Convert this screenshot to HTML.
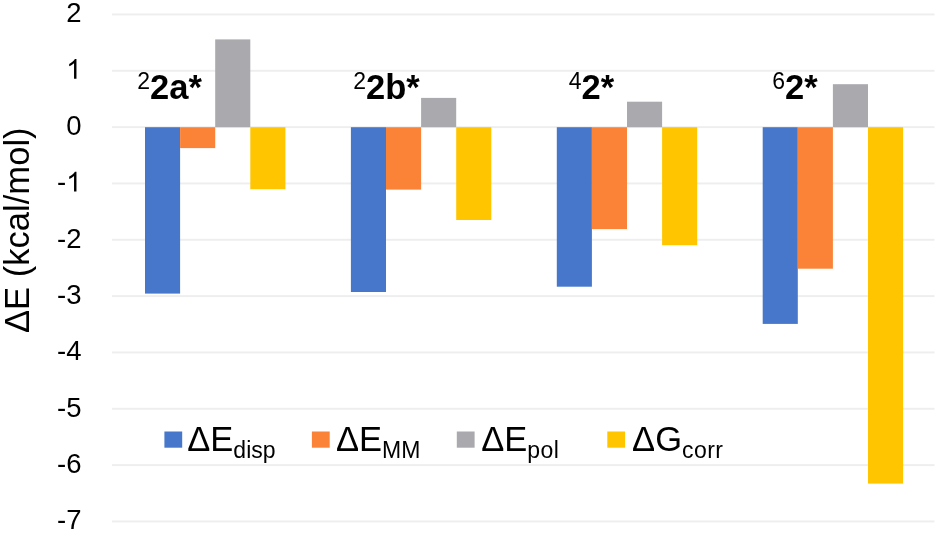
<!DOCTYPE html>
<html><head><meta charset="utf-8"><style>
html,body{margin:0;padding:0;background:#fff;}
body{width:937px;height:533px;overflow:hidden;}
svg{display:block;filter:blur(0.35px);}
text{font-family:"Liberation Sans",sans-serif;fill:#000;}
.tick{font-size:27.5px;text-anchor:end;}
.title{font-size:34.6px;text-anchor:middle;}
.sup{font-size:23px;}
.lab{font-size:34.5px;font-weight:bold;}
.leg{font-size:34.5px;}
.sub{font-size:23px;}
</style></head><body>
<svg width="937" height="533" viewBox="0 0 937 533">
<rect x="112" y="13.50" width="822.5" height="1.9" fill="#EEEEEE"/>
<rect x="112" y="69.83" width="822.5" height="1.9" fill="#EEEEEE"/>
<rect x="112" y="126.17" width="822.5" height="1.9" fill="#EEEEEE"/>
<rect x="112" y="182.50" width="822.5" height="1.9" fill="#EEEEEE"/>
<rect x="112" y="238.83" width="822.5" height="1.9" fill="#EEEEEE"/>
<rect x="112" y="295.16" width="822.5" height="1.9" fill="#EEEEEE"/>
<rect x="112" y="351.50" width="822.5" height="1.9" fill="#EEEEEE"/>
<rect x="112" y="407.83" width="822.5" height="1.9" fill="#EEEEEE"/>
<rect x="112" y="464.16" width="822.5" height="1.9" fill="#EEEEEE"/>
<rect x="112" y="520.50" width="822.5" height="1.9" fill="#EEEEEE"/>
<rect x="145.00" y="127.20" width="35.10" height="166.40" fill="#4677CA"/>
<rect x="180.10" y="127.20" width="35.10" height="20.90" fill="#FA8337"/>
<rect x="215.20" y="39.40" width="35.10" height="87.80" fill="#AAAAAE"/>
<rect x="250.30" y="127.20" width="35.10" height="62.00" fill="#FFC600"/>
<rect x="350.90" y="127.20" width="35.10" height="164.80" fill="#4677CA"/>
<rect x="386.00" y="127.20" width="35.10" height="62.40" fill="#FA8337"/>
<rect x="421.10" y="97.90" width="35.10" height="29.30" fill="#AAAAAE"/>
<rect x="456.20" y="127.20" width="35.10" height="92.80" fill="#FFC600"/>
<rect x="556.80" y="127.20" width="35.10" height="159.50" fill="#4677CA"/>
<rect x="591.90" y="127.20" width="35.10" height="101.90" fill="#FA8337"/>
<rect x="627.00" y="101.70" width="35.10" height="25.50" fill="#AAAAAE"/>
<rect x="662.10" y="127.20" width="35.10" height="118.00" fill="#FFC600"/>
<rect x="762.70" y="127.20" width="35.10" height="196.70" fill="#4677CA"/>
<rect x="797.80" y="127.20" width="35.10" height="141.50" fill="#FA8337"/>
<rect x="832.90" y="84.20" width="35.10" height="43.00" fill="#AAAAAE"/>
<rect x="868.00" y="127.20" width="35.10" height="356.40" fill="#FFC600"/>
<text x="81.5" y="22.40" class="tick">2</text>
<path transform="translate(66.21,78.73) scale(0.01343,-0.01343)" d="M763 0L583 0L583 1147Q518 1085 412 1023Q306 961 223 930L223 1104Q374 1175 486 1276Q599 1377 647 1472L763 1472Z"/>
<text x="81.5" y="135.07" class="tick">0</text>
<path transform="translate(66.21,191.40) scale(0.01343,-0.01343)" d="M763 0L583 0L583 1147Q518 1085 412 1023Q306 961 223 930L223 1104Q374 1175 486 1276Q599 1377 647 1472L763 1472Z"/>
<text x="66.21" y="191.40" class="tick">-</text>
<text x="81.5" y="247.73" class="tick">-2</text>
<text x="81.5" y="304.06" class="tick">-3</text>
<text x="81.5" y="360.40" class="tick">-4</text>
<text x="81.5" y="416.73" class="tick">-5</text>
<text x="81.5" y="473.06" class="tick">-6</text>
<text x="81.5" y="529.40" class="tick">-7</text>
<text transform="translate(29,230.2) rotate(-90)" class="title">ΔE (kcal/mol)</text>
<text x="137.3" y="88.6" class="sup">2</text>
<text x="150.10" y="99.4" class="lab">2a*</text>
<text x="353.2" y="88.6" class="sup">2</text>
<text x="366.00" y="99.4" class="lab">2b*</text>
<text x="568.8" y="88.6" class="sup">4</text>
<text x="581.60" y="99.4" class="lab">2*</text>
<text x="772.3" y="88.6" class="sup">6</text>
<text x="785.10" y="99.4" class="lab">2*</text>
<rect x="164.4" y="431.5" width="17.8" height="16.2" fill="#4677CA"/>
<text x="187.30" y="450.8" class="leg">ΔE<tspan class="sub" dy="7.4">disp</tspan></text>
<rect x="311.9" y="431.5" width="17.8" height="16.2" fill="#FA8337"/>
<text x="336.00" y="450.8" class="leg">ΔE<tspan class="sub" dy="7.4">MM</tspan></text>
<rect x="456.8" y="431.5" width="17.8" height="16.2" fill="#AAAAAE"/>
<text x="481.20" y="450.8" class="leg">ΔE<tspan class="sub" dy="7.4" letter-spacing="0.45">pol</tspan></text>
<rect x="607.3" y="431.5" width="17.8" height="16.2" fill="#FFC600"/>
<text x="632.10" y="450.8" class="leg">ΔG<tspan class="sub" dy="7.4" letter-spacing="0.45">corr</tspan></text>
</svg>
</body></html>
